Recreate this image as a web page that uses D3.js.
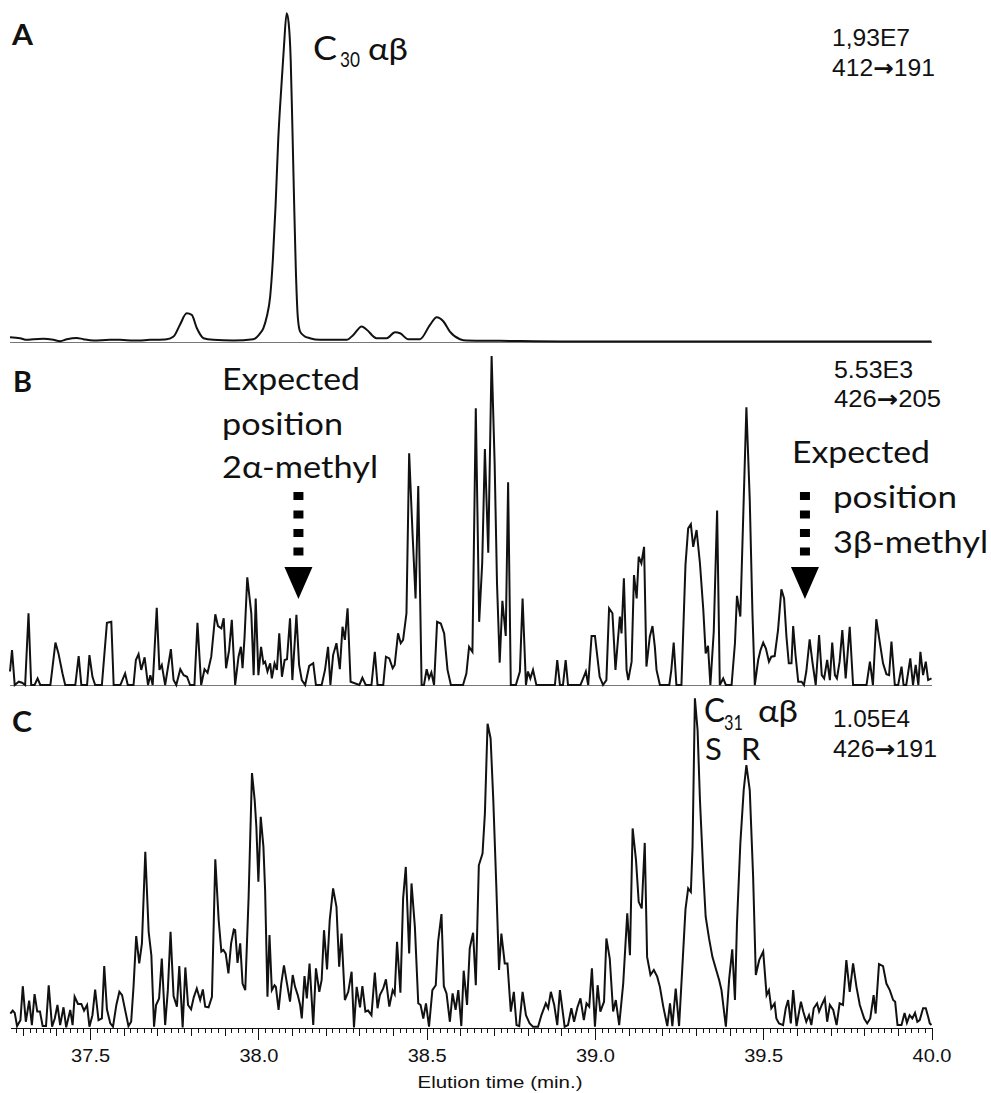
<!DOCTYPE html>
<meta charset='utf-8'>
<style>
  body { margin: 0; background: #fff; }
  .trace { fill: none; stroke: #111; stroke-width: 2; stroke-linejoin: miter; }
  .base { stroke: #777; stroke-width: 1; shape-rendering: crispEdges; }
  .axis path, .axis line { stroke: #111; stroke-width: 1; shape-rendering: crispEdges; }
</style>
<body>
<script src='https://d3js.org/d3.v7.min.js'></script>
<script>
// retention time (min) and relative intensity (% of panel max)
const traceA = [
  [37.262,1.3],[37.292,1.0],[37.312,0.5],[37.332,0.7],[37.361,0.8],[37.391,0.5],[37.411,0.1],[37.431,0.7],
  [37.460,1.1],[37.480,0.7],[37.510,0.3],[37.559,0.5],[37.589,0.5],[37.629,0.3],[37.678,0.5],[37.728,0.7],
  [37.748,1.5],[37.767,5.1],[37.787,8.6],[37.802,8.1],[37.817,4.1],[37.837,1.0],[37.866,0.5],[37.926,0.3],
  [37.985,0.7],[38.005,2.5],[38.015,4.1],[38.025,7.6],[38.035,13.7],[38.043,24.9],[38.051,41.2],[38.059,61.5],
  [38.069,78.8],[38.076,89.9],[38.084,100],[38.090,97.0],[38.096,85.9],[38.101,65.5],[38.106,43.2],[38.111,22.9],
  [38.117,7.6],[38.124,3.0],[38.136,1.7],[38.153,1.0],[38.183,0.5],[38.262,0.5],[38.282,2.0],[38.307,4.6],
  [38.322,3.6],[38.351,1.0],[38.381,1.0],[38.406,2.8],[38.421,2.5],[38.445,0.7],[38.480,0.7],[38.510,5.1],
  [38.530,7.4],[38.550,6.1],[38.569,3.0],[38.599,0.7],[38.619,0.3],[38.718,0.2],[38.900,0],[39.500,0],[40.000,0]
];

const traceB = [
  [37.262,4.1],[37.268,10.6],[37.276,0],[37.288,1.0],[37.298,0.7],[37.307,0],[37.317,21.8],[37.325,0],[37.335,0],
  [37.344,2.0],[37.352,0],[37.382,0],[37.397,12.9],[37.406,9.6],[37.418,3.5],[37.426,0],[37.456,0],[37.466,8.8],
  [37.474,0],[37.491,0],[37.498,9.1],[37.507,2.5],[37.515,0],[37.535,0],[37.550,18.9],[37.563,19.2],[37.570,0],
  [37.590,0],[37.604,3.5],[37.612,0],[37.629,0],[37.636,7.6],[37.644,9.4],[37.652,4.6],[37.662,8.4],[37.672,0],
  [37.679,3.0],[37.686,0],[37.698,23.5],[37.706,4.6],[37.713,6.1],[37.723,0],[37.740,10.9],[37.748,1.5],[37.756,0],
  [37.768,4.8],[37.778,3.0],[37.788,2.5],[37.797,0],[37.810,0],[37.819,18.9],[37.830,0],[37.840,4.8],[37.849,3.7],
  [37.860,8.6],[37.872,21.5],[37.880,17.9],[37.890,17.2],[37.897,20.3],[37.904,5.1],[37.913,10.6],[37.921,19.8],
  [37.931,0],[37.941,8.6],[37.948,11.6],[37.953,5.1],[37.959,14.7],[37.967,32.7],[37.979,21.8],[37.986,3.0],
  [37.992,26.3],[38.000,3.0],[38.008,11.6],[38.015,6.6],[38.020,7.1],[38.027,4.1],[38.035,6.6],[38.040,2.0],
  [38.048,6.6],[38.055,4.6],[38.062,15.7],[38.070,2.5],[38.078,7.6],[38.085,7.8],[38.094,20.3],[38.101,1.5],
  [38.113,21.3],[38.121,6.1],[38.129,1.5],[38.139,0],[38.151,5.8],[38.163,6.6],[38.171,0],[38.188,0],[38.198,4.6],
  [38.207,11.6],[38.214,0],[38.222,9.1],[38.232,12.7],[38.242,4.8],[38.250,17.7],[38.257,13.7],[38.265,23.3],
  [38.274,1.0],[38.300,0],[38.309,2.2],[38.319,0],[38.336,0],[38.346,10.1],[38.354,0],[38.371,0],[38.379,8.6],
  [38.389,8.1],[38.399,5.1],[38.405,6.1],[38.415,15.7],[38.423,12.7],[38.430,13.7],[38.440,21.8],[38.448,70.4],
  [38.458,46.1],[38.467,26.3],[38.475,60.5],[38.485,0],[38.492,0],[38.500,4.8],[38.507,2.0],[38.514,3.8],[38.522,0],
  [38.531,19.2],[38.542,18.7],[38.552,15.7],[38.562,4.6],[38.572,0],[38.608,0],[38.618,3.5],[38.626,11.6],
  [38.636,10.1],[38.646,84.1],[38.656,19.2],[38.665,37.0],[38.673,71.7],[38.683,40.2],[38.693,100],[38.702,67.4],
  [38.709,30.9],[38.717,6.8],[38.725,25.6],[38.735,14.9],[38.742,61.6],[38.750,0],[38.765,0],[38.777,4.1],
  [38.785,26.3],[38.795,0],[38.801,4.1],[38.808,2.0],[38.816,4.6],[38.826,0],[38.881,0],[38.888,7.6],[38.896,0],
  [38.905,0],[38.913,7.6],[38.920,0],[38.957,0],[38.965,2.0],[38.973,4.1],[38.980,0],[38.990,14.9],[39.000,14.9],
  [39.006,9.6],[39.014,2.5],[39.024,0],[39.034,1.5],[39.042,23.3],[39.052,21.8],[39.061,4.6],[39.074,20.8],
  [39.079,15.7],[39.086,32.4],[39.094,4.6],[39.099,1.5],[39.109,7.1],[39.116,33.4],[39.124,26.3],[39.130,39.0],
  [39.138,37.0],[39.146,42.0],[39.153,5.6],[39.163,14.7],[39.171,17.9],[39.178,11.6],[39.183,4.6],[39.193,0],
  [39.221,0],[39.227,4.6],[39.234,12.9],[39.242,0],[39.257,0],[39.269,36.5],[39.277,47.6],[39.285,48.9],
  [39.292,42.0],[39.302,47.1],[39.312,37.0],[39.322,22.8],[39.329,9.6],[39.336,11.9],[39.343,0],[39.353,16.2],
  [39.363,53.0],[39.371,0],[39.381,2.0],[39.389,0],[39.406,0],[39.416,12.7],[39.422,27.1],[39.432,20.8],
  [39.440,49.1],[39.450,84.4],[39.460,56.2],[39.468,21.8],[39.475,0],[39.485,7.6],[39.492,10.6],[39.500,12.9],
  [39.508,11.1],[39.517,7.1],[39.524,8.6],[39.534,8.8],[39.544,16.7],[39.554,29.1],[39.562,26.3],[39.569,14.7],
  [39.576,6.6],[39.584,6.6],[39.589,17.9],[39.596,9.1],[39.604,1.0],[39.614,1.0],[39.621,0],[39.628,4.1],
  [39.638,13.9],[39.646,7.1],[39.656,0],[39.666,15.2],[39.674,3.0],[39.681,2.0],[39.690,7.6],[39.698,1.5],
  [39.705,12.9],[39.713,3.0],[39.719,2.0],[39.727,7.1],[39.735,16.7],[39.745,2.0],[39.757,17.7],[39.767,0],
  [39.807,0],[39.817,7.1],[39.826,0],[39.836,20.0],[39.846,13.2],[39.856,6.6],[39.866,3.3],[39.874,3.0],
  [39.881,13.2],[39.891,0],[39.901,0],[39.911,5.6],[39.917,0],[39.925,0],[39.937,8.1],[39.945,0],[39.953,6.1],
  [39.961,0],[39.967,10.1],[39.975,3.0],[39.983,7.1],[39.990,1.5],[40.000,2.0]
];

const traceC = [
  [37.263,4.3],[37.270,5.2],[37.276,4.5],[37.283,0.5],[37.293,2.3],[37.300,12.6],[37.309,1.8],[37.319,8.2],
  [37.327,0.8],[37.335,10.2],[37.343,4.9],[37.351,4.9],[37.359,0.5],[37.369,0.5],[37.377,12.9],[37.387,0.3],
  [37.395,2.8],[37.403,6.9],[37.411,0.8],[37.421,6.2],[37.429,0.1],[37.441,5.4],[37.448,0.8],[37.454,9.4],
  [37.464,7.2],[37.474,7.2],[37.482,5.2],[37.491,6.9],[37.498,0.3],[37.507,3.8],[37.515,11.6],[37.525,2.3],
  [37.535,2.8],[37.542,18.7],[37.550,5.6],[37.560,1.3],[37.568,0.3],[37.578,6.9],[37.587,10.9],[37.595,9.9],
  [37.604,5.4],[37.614,0.5],[37.622,1.8],[37.629,12.4],[37.637,27.8],[37.646,19.5],[37.654,25.6],[37.664,53.4],
  [37.674,29.1],[37.682,22.0],[37.690,0.3],[37.696,6.9],[37.705,8.9],[37.713,21.0],[37.723,0.8],[37.731,11.4],
  [37.739,29.1],[37.748,9.6],[37.758,6.4],[37.765,18.7],[37.775,0.1],[37.783,18.3],[37.791,6.9],[37.800,5.6],
  [37.808,9.2],[37.817,11.9],[37.827,8.4],[37.835,11.6],[37.842,6.4],[37.852,6.2],[37.862,9.4],[37.872,51.1],
  [37.882,32.7],[37.890,23.1],[37.896,23.6],[37.903,22.5],[37.911,16.5],[37.919,25.6],[37.927,29.8],[37.931,29.6],
  [37.938,19.7],[37.946,25.6],[37.953,13.4],[37.961,11.4],[37.971,39.7],[37.981,77.3],[37.989,69.1],[37.994,61.0],
  [38.000,44.3],[38.007,64.0],[38.015,54.9],[38.020,41.8],[38.027,9.4],[38.033,28.1],[38.040,11.4],[38.048,12.9],
  [38.052,12.4],[38.060,5.4],[38.068,13.4],[38.076,18.9],[38.085,13.4],[38.094,7.9],[38.102,16.0],[38.109,12.4],
  [38.117,9.9],[38.124,6.9],[38.129,2.8],[38.137,15.7],[38.144,8.9],[38.152,19.5],[38.163,0.8],[38.171,18.0],
  [38.181,10.9],[38.188,14.5],[38.195,29.6],[38.204,17.7],[38.212,32.7],[38.222,42.3],[38.232,36.7],[38.240,18.5],
  [38.247,28.6],[38.257,8.4],[38.267,10.9],[38.277,17.0],[38.284,0.1],[38.292,12.4],[38.302,6.2],[38.309,12.6],
  [38.318,4.9],[38.326,5.2],[38.336,3.8],[38.346,16.7],[38.354,5.9],[38.361,9.9],[38.371,11.9],[38.379,14.7],
  [38.389,6.4],[38.399,11.4],[38.405,10.2],[38.412,26.1],[38.422,10.6],[38.430,39.2],[38.438,48.8],[38.448,22.5],
  [38.455,43.8],[38.465,30.6],[38.475,7.4],[38.482,6.9],[38.490,2.8],[38.498,7.4],[38.507,0.3],[38.517,11.4],
  [38.527,12.9],[38.534,26.1],[38.544,34.5],[38.551,12.6],[38.559,10.4],[38.569,1.8],[38.577,10.4],[38.586,5.4],
  [38.594,11.4],[38.603,0.5],[38.610,17.3],[38.620,6.9],[38.628,24.1],[38.638,28.8],[38.646,12.9],[38.655,49.3],
  [38.666,52.9],[38.673,65.0],[38.681,92.3],[38.690,87.8],[38.698,69.1],[38.707,42.8],[38.715,17.5],[38.722,28.6],
  [38.732,19.5],[38.740,19.5],[38.750,4.9],[38.759,10.9],[38.767,0.8],[38.775,0.5],[38.785,10.9],[38.795,3.8],
  [38.806,1.3],[38.816,0.3],[38.831,0.3],[38.841,3.8],[38.854,7.4],[38.861,5.9],[38.869,10.9],[38.879,6.9],
  [38.888,0.8],[38.896,11.4],[38.903,5.9],[38.910,0.3],[38.920,0.8],[38.930,5.9],[38.938,1.8],[38.948,6.2],
  [38.957,8.9],[38.967,2.3],[38.975,7.4],[38.983,6.4],[38.991,18.0],[39.000,0.3],[39.008,12.9],[39.016,4.9],
  [39.027,7.9],[39.034,27.1],[39.044,21.0],[39.054,4.9],[39.062,8.4],[39.072,0.8],[39.084,13.4],[39.096,34.7],
  [39.104,22.0],[39.112,60.5],[39.122,50.9],[39.130,38.2],[39.139,36.2],[39.148,56.1],[39.155,21.5],[39.165,16.0],
  [39.175,17.5],[39.185,15.5],[39.193,12.4],[39.203,6.4],[39.215,0.5],[39.223,7.4],[39.230,0.5],[39.240,11.9],
  [39.250,0.5],[39.260,19.0],[39.269,35.9],[39.277,42.3],[39.285,41.2],[39.290,54.9],[39.297,100],[39.305,90.3],
  [39.312,69.1],[39.322,46.8],[39.329,33.7],[39.339,27.1],[39.349,21.5],[39.359,18.0],[39.369,14.5],[39.376,11.4],
  [39.389,0.3],[39.399,15.0],[39.408,23.8],[39.416,8.4],[39.422,31.6],[39.432,55.9],[39.442,72.1],[39.450,79.7],
  [39.460,72.1],[39.470,45.8],[39.478,16.0],[39.488,20.5],[39.500,23.1],[39.510,9.9],[39.517,11.4],[39.524,5.9],
  [39.534,7.4],[39.539,2.8],[39.547,1.3],[39.559,0.8],[39.567,5.9],[39.574,8.4],[39.582,1.3],[39.589,11.4],
  [39.599,0.5],[39.612,7.9],[39.619,4.9],[39.628,1.8],[39.636,3.8],[39.643,0.8],[39.650,5.9],[39.660,7.4],
  [39.666,4.9],[39.674,6.9],[39.683,8.9],[39.690,1.8],[39.698,6.9],[39.708,5.4],[39.718,0.8],[39.727,7.4],
  [39.737,6.9],[39.747,20.5],[39.757,10.9],[39.767,19.5],[39.777,12.4],[39.787,6.9],[39.800,2.8],[39.809,1.3],
  [39.818,2.8],[39.828,9.9],[39.834,4.3],[39.844,19.3],[39.856,18.7],[39.866,13.4],[39.876,11.4],[39.886,8.4],
  [39.892,7.9],[39.899,0.8],[39.911,0.8],[39.920,4.5],[39.927,1.5],[39.935,3.8],[39.943,2.8],[39.951,4.5],
  [39.958,1.8],[39.965,2.3],[39.975,5.9],[39.983,5.9],[39.990,3.3],[39.995,1.3],[40.000,0.8]
];

const majorTicks = [37.5, 38.0, 38.5, 39.0, 39.5, 40.0];
const arrowTimes = [38.119, 39.624];   // expected positions 2α-methyl, 3β-methyl

const W = 991, H = 1093;
const arial = "'Liberation Sans', Arial, sans-serif";
const calibri = "Lato, 'Noto Sans', 'DejaVu Sans', sans-serif";

const svg = d3.select('body').append('svg')
  .attr('width', W).attr('height', H)
  .style('background', '#fff');

const x = d3.scaleLinear().domain([37.262, 40.0]).range([10, 931.5]);

const panels = [
  {data: traceA, bottom: 341.5, top: 13.3, curve: d3.curveMonotoneX, base: true},
  {data: traceB, bottom: 685, top: 356, curve: d3.curveLinear, base: true},
  {data: traceC, bottom: 1027.7, top: 698.3, curve: d3.curveLinear, base: false}
];

panels.forEach(p => {
  const y = d3.scaleLinear().domain([0, 100]).range([p.bottom, p.top]);
  if (p.base) {
    svg.append('line').attr('class', 'base')
      .attr('x1', x.range()[0]).attr('x2', x.range()[1])
      .attr('y1', Math.round(p.bottom) + 0.5).attr('y2', Math.round(p.bottom) + 0.5);
  }
  const line = d3.line().x(d => x(d[0])).y(d => y(d[1])).curve(p.curve);
  svg.append('path').attr('class', 'trace').attr('d', line(p.data));
});

// time axis under panel C: minor 0.02, medium 0.1, major 0.5 ticks
const axisY = 1028;
const minor = d3.range(37.28, 40.001, 0.02).map(v => +v.toFixed(2));
const medium = d3.range(37.3, 40.001, 0.1).map(v => +v.toFixed(1));

svg.append('g').attr('class', 'axis').attr('transform', `translate(0,${axisY})`)
  .call(d3.axisBottom(x).tickValues(minor).tickSize(5).tickSizeOuter(0).tickFormat(''));
svg.append('g').attr('class', 'axis').attr('transform', `translate(0,${axisY})`)
  .call(d3.axisBottom(x).tickValues(medium).tickSize(8).tickSizeOuter(0).tickFormat(''))
  .select('.domain').remove();
const major = svg.append('g').attr('class', 'axis').attr('transform', `translate(0,${axisY})`)
  .call(d3.axisBottom(x).tickValues(majorTicks).tickSize(12).tickSizeOuter(0)
    .tickPadding(9).tickFormat(d3.format('.1f')));
major.select('.domain').remove();
major.selectAll('text')
  .attr('font-family', arial).attr('font-size', 18).attr('fill', '#111')
  .attr('textLength', 39).attr('lengthAdjust', 'spacingAndGlyphs');

// dotted arrows
arrowTimes.forEach(t => {
  const cx = x(t);
  svg.append('line')
    .attr('x1', cx).attr('x2', cx).attr('y1', 492).attr('y2', 556)
    .attr('stroke', '#000').attr('stroke-width', 10).attr('stroke-dasharray', '8 10.5');
  svg.append('path')
    .attr('d', `M${cx - 14},567 L${cx + 14},567 L${cx},599 Z`)
    .attr('fill', '#000');
});

// text
const labels = [
  {text: 'A', x: 12, y: 45, font: calibri, size: 28, bold: true, w: 21},
  {text: 'B', x: 13, y: 392, font: calibri, size: 28, bold: true, w: 19},
  {text: 'C', x: 12, y: 732, font: calibri, size: 28, bold: true, w: 20},

  {text: 'C', x: 313, y: 60, font: calibri, size: 32, w: 24},
  {text: '30', x: 340, y: 67, font: calibri, size: 22, w: 20},
  {text: 'αβ', x: 368, y: 60, font: calibri, size: 31, w: 40},

  {text: 'Expected', x: 222, y: 390, font: calibri, size: 31, w: 138},
  {text: 'position', x: 222, y: 435, font: calibri, size: 31, w: 121},
  {text: '2α-methyl', x: 222, y: 478, font: calibri, size: 31, w: 156},
  {text: 'Expected', x: 792, y: 463, font: calibri, size: 31, w: 138},
  {text: 'position', x: 833, y: 508, font: calibri, size: 31, w: 124},
  {text: '3β-methyl', x: 833, y: 553, font: calibri, size: 31, w: 155},

  {text: 'C', x: 704, y: 722, font: calibri, size: 32, w: 21},
  {text: '31', x: 724, y: 730, font: calibri, size: 22, w: 19},
  {text: 'αβ', x: 758, y: 722, font: calibri, size: 31, w: 40},
  {text: 'S', x: 705, y: 760, font: calibri, size: 31},
  {text: 'R', x: 741, y: 760, font: calibri, size: 31},

  {text: ['1,93E7'], x: 832, y: 46, font: arial, size: 23, w: 78},
  {text: ['412', '\u2192', '191'], x: 832, y: 76, font: arial, size: 23, w: 103},
  {text: ['5.53E3'], x: 834, y: 378, font: arial, size: 23, w: 79},
  {text: ['426', '\u2192', '205'], x: 834, y: 407, font: arial, size: 23, w: 107},
  {text: ['1.05E4'], x: 833, y: 727, font: arial, size: 23, w: 77},
  {text: ['426', '\u2192', '191'], x: 833, y: 757, font: arial, size: 23, w: 104},

  {text: 'Elution time (min.)', x: 500, y: 1088, font: arial, size: 17, w: 165, anchor: 'middle'}
];

labels.forEach(l => {
  const t = svg.append('text')
    .attr('x', l.x).attr('y', l.y)
    .attr('font-family', l.font).attr('font-size', l.size)
    .attr('font-weight', l.bold ? 700 : 400)
    .attr('text-anchor', l.anchor || 'start')
    .attr('fill', '#111');
  if (Array.isArray(l.text)) {
    l.text.forEach(s => {
      const ts = t.append('tspan').text(s);
      // the transition arrow is a heavy glyph in the original
      if (s === '\u2192') ts.attr('font-family', "'DejaVu Sans', sans-serif").attr('font-weight', 700);
    });
  } else {
    t.text(l.text);
  }
  if (l.w) t.attr('textLength', l.w).attr('lengthAdjust', 'spacingAndGlyphs');
});
</script>
</body>
